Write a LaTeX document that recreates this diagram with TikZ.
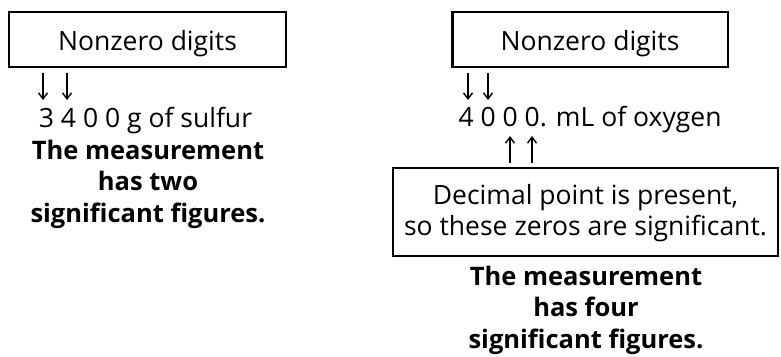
\documentclass[tikz,border=0pt]{standalone}
\usepackage{fontspec}
\setmainfont{Open Sans}
\usetikzlibrary{arrows.meta}
\begin{document}
\begin{tikzpicture}[x=1pt,y=-1pt,
  box/.style={draw, line width=2.4pt},
  lbl/.style={anchor=base, inner sep=0pt, align=center, font=\fontsize{26.5}{31}\selectfont},
  bold/.style={anchor=base, inner sep=0pt, align=center, font=\fontsize{25.5}{31.5}\selectfont\bfseries},
  digarrow/.style={line width=1.4pt, -{Straight Barb[length=6pt,width=9pt]}}]
\useasboundingbox (0,0) rectangle (781,356);
% left
\draw[box] (9,12) rectangle (286,67);
\node[lbl] (lt) at (147.5,50) {Nonzero digits};
\node[lbl] (ls) at (145.5,127) {3 4 0 0 g of sulfur};
\node[bold] (lb) at (148,222) {The measurement\\has two\\significant figures.};
\coordinate (la1) at (43,73); \coordinate (la1e) at (43,100);
\coordinate (la2) at (67,73); \coordinate (la2e) at (67,100);
\draw[digarrow] (la1) -- (la1e);
\draw[digarrow] (la2) -- (la2e);
% right
\draw[box] (452.5,12) rectangle (728,67);
\node[lbl] (rt) at (590,50) {Nonzero digits};
\node[lbl] (rs) at (590,126) {4 0 0 0. mL of oxygen};
\coordinate (ra1) at (468,73); \coordinate (ra1e) at (468,100);
\coordinate (ra2) at (488,73); \coordinate (ra2e) at (488,100);
\draw[digarrow] (ra1) -- (ra1e);
\draw[digarrow] (ra2) -- (ra2e);
\coordinate (ru1) at (510,163); \coordinate (ru1e) at (510,136);
\coordinate (ru2) at (532,163); \coordinate (ru2e) at (532,136);
\draw[digarrow] (ru1) -- (ru1e);
\draw[digarrow] (ru2) -- (ru2e);
\draw[box] (393,168) rectangle (778,256);
\node[lbl] (rd) at (585.5,235) {Decimal point is present,\\so these zeros are significant.};
\node[bold] (rb) at (586,348) {The measurement\\has four\\significant figures.};
\end{tikzpicture}
\end{document}
